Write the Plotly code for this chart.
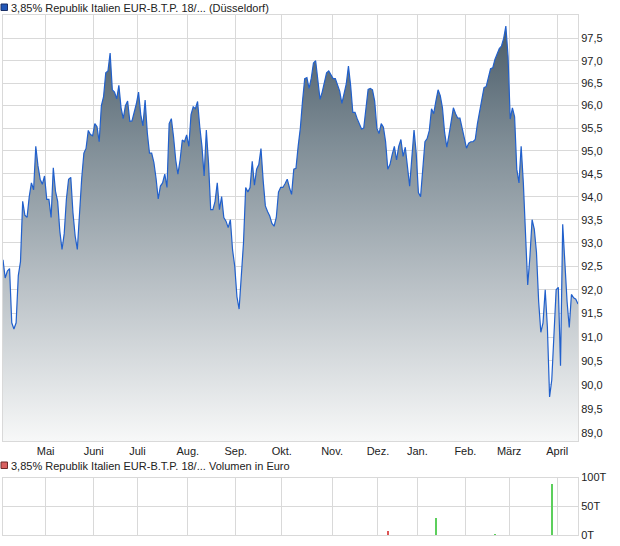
import numpy as np
import pandas as pd
import plotly.graph_objects as go

# ---------------------------------------------------------------------------
# Data
# ---------------------------------------------------------------------------

FIRST_DAY = "2019-04-01"
LAST_DAY = "2020-04-16"
HOLIDAYS = [
    "2019-04-19", "2019-04-22", "2019-05-01", "2019-12-24", "2019-12-25",
    "2019-12-26", "2019-12-31", "2020-01-01", "2020-04-10", "2020-04-13",
]

# daily close, one value per trading day
PRICE = [
    92.64, 92.25, 92.40, 92.45, 91.30, 91.17, 91.30, 92.30, 92.60, 93.90,
    93.60, 93.55, 94.00, 94.30, 94.15, 95.10, 94.67, 94.38, 94.27, 94.45,
    93.94, 93.94, 93.55, 94.63, 94.12, 93.90, 93.25, 92.86, 93.20, 93.95,
    94.38, 94.42, 93.65, 93.15, 92.86, 93.70, 94.40, 94.95, 95.06, 95.45,
    95.36, 95.33, 95.60, 95.53, 95.20, 96.00, 96.20, 96.73, 96.77, 97.17,
    96.35, 96.30, 96.15, 96.45, 95.95, 95.71, 96.00, 96.10, 95.65, 95.66,
    95.85, 96.04, 96.30, 95.80, 95.55, 96.12, 95.40, 94.95, 94.95, 94.75,
    94.40, 93.95, 94.23, 94.30, 94.49, 94.20, 95.60, 95.71, 95.31, 94.80,
    94.49, 94.80, 95.24, 95.20, 95.35, 95.10, 95.80, 95.97, 95.93, 96.09,
    95.53, 95.10, 94.45, 95.46, 94.74, 93.72, 93.72, 93.90, 94.30, 93.72,
    94.00, 93.55, 93.47, 93.33, 93.50, 92.85, 92.50, 91.85, 91.59, 92.20,
    93.00, 94.20, 94.10, 94.20, 94.77, 94.25, 94.60, 94.70, 95.05, 94.35,
    93.80, 93.68, 93.58, 93.42, 93.36, 93.55, 94.10, 94.20, 94.20, 94.28,
    94.38, 94.20, 94.05, 94.60, 94.62, 95.10, 95.50, 96.10, 96.60, 96.62,
    96.38, 96.61, 96.95, 97.00, 96.60, 96.14, 96.30, 96.55, 96.73, 96.77,
    96.67, 96.60, 96.60, 96.48, 96.32, 96.05, 96.30, 96.48, 96.88, 96.45,
    95.85, 95.85, 95.71, 95.57, 95.48, 95.50, 95.90, 96.36, 96.38, 96.35,
    96.10, 95.50, 95.38, 95.60, 95.52, 95.20, 94.60, 94.70, 94.92, 95.10,
    94.80, 95.10, 95.25, 94.88, 95.08, 94.60, 94.23, 94.85, 95.46, 94.95,
    94.09, 94.00, 94.60, 95.20, 95.27, 95.45, 95.93, 95.82, 96.10, 96.35,
    96.22, 95.95, 95.40, 95.08, 95.35, 95.68, 95.95, 95.82, 95.72, 95.72,
    95.50, 95.28, 95.06, 95.17, 95.20, 95.20, 95.25, 95.60, 95.85, 96.10,
    96.40, 96.42, 96.60, 96.82, 96.84, 97.03, 97.15, 97.27, 97.33, 97.50,
    97.78, 97.10, 95.70, 95.95, 95.75, 94.60, 94.30, 95.10, 94.30, 93.25,
    92.10, 92.70, 93.50, 93.30, 92.80, 91.75, 91.10, 91.30, 92.00, 91.20,
    89.75, 90.10, 91.00, 92.00, 92.05, 90.40, 93.40, 92.50, 91.75, 91.20,
    91.90, 91.83, 91.80, 91.70,
]

# traded volume in euro (only days with turnover)
VOL_DATES = ["2019-12-06", "2020-01-14", "2020-02-20", "2020-03-27"]
VOL_EURO = [7000, 30000, 3000, 90000]
VOL_UP = [False, True, True, True]

MONTH_LABELS = ["Mai", "Juni", "Juli", "Aug.", "Sep.", "Okt.", "Nov.", "Dez.",
                "Jan.", "Feb.", "März", "April"]
PRICE_TICKS = [89.0, 89.5, 90.0, 90.5, 91.0, 91.5, 92.0, 92.5, 93.0,
               93.5, 94.0, 94.5, 95.0, 95.5, 96.0, 96.5, 97.0, 97.5]
VOL_TICKS = [0, 50000, 100000]
VOL_TICK_LABELS = ["0T", "50T", "100T"]

TITLE_PRICE = "3,85% Republik Italien EUR-B.T.P. 18/... (Düsseldorf)"
TITLE_VOL = "3,85% Republik Italien EUR-B.T.P. 18/... Volumen in Euro"

# ---------------------------------------------------------------------------
# Calendar / positions
# ---------------------------------------------------------------------------

dates = pd.bdate_range(FIRST_DAY, LAST_DAY)
dates = dates[~dates.isin(pd.to_datetime(HOLIDAYS))]
assert len(dates) == len(PRICE), (len(dates), len(PRICE))
x = np.arange(len(dates))
pos = pd.Series(x, index=dates)

# month gridlines sit between last day of the old and first day of the new month
month_first = pd.Series(x, index=dates).groupby(dates.to_period("M")).min()
tick_x = [v - 0.5 for v in month_first.values[1:]]

vol_x = [int(pos[pd.Timestamp(d)]) for d in VOL_DATES]

# ---------------------------------------------------------------------------
# Styling
# ---------------------------------------------------------------------------

FONT = "Liberation Sans, Arial, sans-serif"
TEXT = "#222222"
GRID = "#d9d9d9"
LINE_BLUE = "#2160cc"
FILL_SCALE = [[0.0, "#f7f8f8"], [0.35, "#bcc3c8"], [0.7, "#7f8d96"], [1.0, "#455764"]]
Y_LO, Y_HI = 88.84, 98.03

W, H = 620, 546
L, R, T, B = 3, 578, 15, 535


def px_x(px):
    return (px - L) / (R - L)


def px_y(py):
    return (B - py) / (B - T)


fig = go.Figure()

fig.add_trace(go.Scatter(
    x=x, y=PRICE, mode="lines",
    line=dict(color=LINE_BLUE, width=1.2),
    fill="tozeroy",
    fillgradient=dict(type="vertical", colorscale=FILL_SCALE, start=Y_LO, stop=Y_HI),
    customdata=dates.strftime("%d.%m.%Y"),
    hovertemplate="%{customdata}<br>%{y:.2f}<extra></extra>",
    xaxis="x", yaxis="y", showlegend=False,
))

fig.add_trace(go.Bar(
    x=vol_x, y=VOL_EURO, width=0.5,
    marker=dict(color=["#5ccf5c" if up else "#dd5555" for up in VOL_UP], line_width=0),
    xaxis="x2", yaxis="y2", showlegend=False,
))

axis_common = dict(
    showgrid=True, gridcolor=GRID, gridwidth=1, zeroline=False,
    showline=True, linecolor=GRID, linewidth=1, mirror=True, ticks="",
    tickfont=dict(family=FONT, size=11, color=TEXT),
)

fig.update_layout(
    width=W, height=H,
    margin=dict(l=L, r=W - R, t=T, b=H - B),
    paper_bgcolor="white", plot_bgcolor="white",
    font=dict(family=FONT, size=11, color=TEXT),
    bargap=0,
    xaxis=dict(
        axis_common, domain=[0, 1], anchor="y", range=[0, len(x) - 1],
        tickmode="array", tickvals=tick_x, ticktext=MONTH_LABELS,
    ),
    yaxis=dict(
        axis_common, domain=[px_y(441), 1], anchor="x", side="right", type="log",
        range=[np.log10(Y_LO), np.log10(Y_HI)],
        tickmode="array", tickvals=PRICE_TICKS,
        ticktext=[f"{v:.1f}".replace(".", ",") for v in PRICE_TICKS],
    ),
    xaxis2=dict(
        axis_common, domain=[0, 1], anchor="y2", range=[0, len(x) - 1],
        tickmode="array", tickvals=tick_x, showticklabels=False,
    ),
    yaxis2=dict(
        axis_common, domain=[0, px_y(477.5)], anchor="x2", side="right",
        range=[0, 100000], tickmode="array", tickvals=VOL_TICKS, ticktext=VOL_TICK_LABELS,
    ),
    shapes=[
        dict(type="rect", xref="paper", yref="paper",
             x0=px_x(1), x1=px_x(7.5), y0=px_y(10.5), y1=px_y(4),
             fillcolor="#2157b8", line=dict(color="#1a2f66", width=1)),
        dict(type="rect", xref="paper", yref="paper",
             x0=px_x(1), x1=px_x(7.5), y0=px_y(468.5), y1=px_y(462),
             fillcolor="#d96060", line=dict(color="#6e2b2b", width=1)),
    ],
    annotations=[
        dict(text=TITLE_PRICE, xref="paper", yref="paper", x=px_x(9), y=px_y(7.5),
             xanchor="left", yanchor="middle", showarrow=False,
             font=dict(family=FONT, size=11, color=TEXT)),
        dict(text=TITLE_VOL, xref="paper", yref="paper", x=px_x(9), y=px_y(465.5),
             xanchor="left", yanchor="middle", showarrow=False,
             font=dict(family=FONT, size=11, color=TEXT)),
    ],
)

# the page's default body margin would shift the figure by 8px
fig.write_html(
    "out.html",
    config={"displayModeBar": False},
    post_script="document.body.style.margin = '0';",
)
